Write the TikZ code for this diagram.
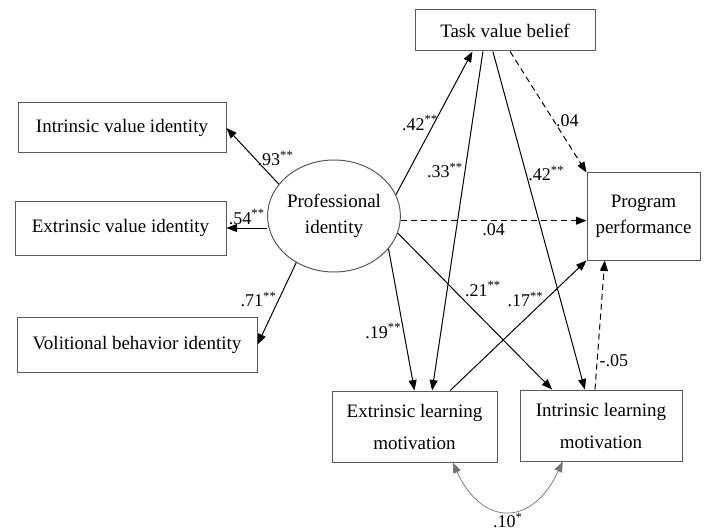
\documentclass[tikz,border=0pt]{standalone}
\usepackage{fontspec}
\setmainfont{Liberation Serif}
\usepackage{tikz}
\usetikzlibrary{shapes,arrows.meta,calc}

\begin{document}
\begin{tikzpicture}[x=1pt, y=-1pt, line width=1pt,
  >={Triangle[length=10.5pt,width=8pt]},
  box/.style={draw=black!65, rectangle, align=center, inner sep=0pt,
    font=\fontsize{19}{26}\selectfont},
  lbl/.style={font=\fontsize{18}{20}\selectfont, inner sep=2pt},
  dsh/.style={dash pattern=on 6pt off 4pt}]

  \useasboundingbox (0,0) rectangle (707,532);

  \node[box, minimum width=208pt, minimum height=50pt] (ivi) at (122,128) {Intrinsic value identity};
  \node[box, minimum width=211pt, minimum height=54pt] (evi) at (120.5,228) {Extrinsic value identity};
  \node[box, minimum width=240pt, minimum height=55pt] (vbi) at (137,344.5) {Volitional behavior identity};
  \node[draw=black!65, ellipse, minimum width=128pt, minimum height=112pt, align=center,
    inner sep=0pt, font=\fontsize{19}{26}\selectfont] (piden) at (334,216) {Professional\\identity};
  \node[box, minimum width=180pt, minimum height=41pt] (tvb) at (505,30.5) {Task value belief};
  \node[box, minimum width=113pt, minimum height=87pt] (pp) at (643.5,216.5) {Program\\performance};
  \node[box, minimum width=165pt, minimum height=71pt] (elm) at (414.5,426.5) {Extrinsic learning\\[6pt]motivation};
  \node[box, minimum width=162pt, minimum height=71pt] (ilm) at (601,425.5) {Intrinsic learning\\[6pt]motivation};

  \draw[->] (piden.150) -- node[lbl, right, pos=0.45] {.93\textsuperscript{**}} (ivi.east);
  \draw[->] (piden.west |- evi.east) -- node[lbl, above=1pt] {.54\textsuperscript{**}} (evi.east);
  \draw[->] (piden.231) -- node[lbl, left, pos=0.45] {.71\textsuperscript{**}} (vbi.east);

  \draw[->] (piden.19) -- node[lbl, left=-6pt, pos=0.5] {.42\textsuperscript{**}}
  ($(tvb.south west)!0.32!(tvb.south east)$);
  \draw[->, dsh] (piden.-4) -- node[lbl, below] {.04} (piden.-4 -| pp.west);
  \draw[->] (piden.-15) -- node[lbl, above right, pos=0.42] {.21\textsuperscript{**}}
  ($(ilm.north west)!0.2!(ilm.north east)$);
  \draw[->] (piden.-31) -- node[lbl, left, pos=0.58] {.19\textsuperscript{**}} (elm.north);

  \draw[->] ($(tvb.south west)!0.378!(tvb.south east)$)
  -- node[lbl, left, pos=0.35] {.33\textsuperscript{**}}
  ($(elm.north west)!0.606!(elm.north east)$);
  \draw[->] ($(tvb.south west)!0.433!(tvb.south east)$)
  -- node[lbl, right, pos=0.36] {.42\textsuperscript{**}}
  ($(ilm.north west)!0.401!(ilm.north east)$);
  \draw[->, dsh] ($(tvb.south west)!0.528!(tvb.south east)$)
  -- node[lbl, right, pos=0.57] {.04} (pp.north west);

  \draw[->] ($(elm.north west)!0.715!(elm.north east)$)
  -- node[lbl, left, pos=0.7] {.17\textsuperscript{**}} (pp.south west);
  \draw[->, dsh] ($(ilm.north west)!0.463!(ilm.north east)$)
  -- node[lbl, right, pos=0.22] {-.05} ($(pp.south west)!0.16!(pp.south east)$);

  \draw[<->, black!55, line width=0.7pt] ($(elm.south west)!0.73!(elm.south east)$)
  .. controls +(30,65) and +(-30,65) .. node[lbl, below, text=black] {.10\textsuperscript{*}}
  ($(ilm.south west)!0.265!(ilm.south east)$);

\end{tikzpicture}
\end{document}
